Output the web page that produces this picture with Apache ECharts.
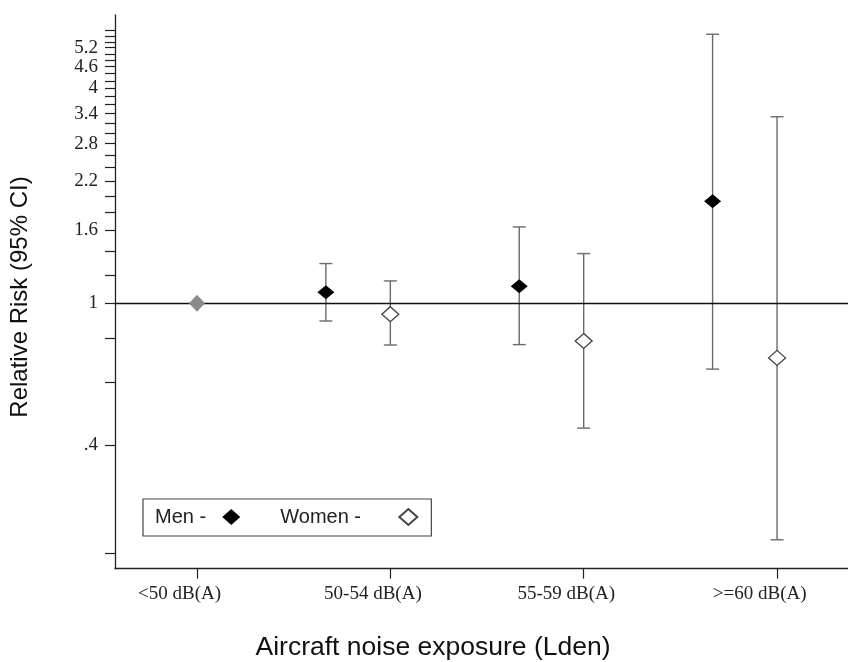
<!DOCTYPE html>
<html>
<head>
<meta charset="utf-8">
<script src="https://cdn.jsdelivr.net/npm/echarts@6/dist/echarts.min.js"></script>
<style>html,body{margin:0;padding:0;background:#fff}#c{width:848px;height:662px}</style>
</head>
<body>
<div id="c"></div>
<script>
// Categories (exposure groups)
var categories = ['<50 dB(A)', '50-54 dB(A)', '55-59 dB(A)', '>=60 dB(A)'];
// Reference group
var refRR = 1;
// Men: relative risk and 95% CI for groups 2..4
var menRR = [1.073, 1.116, 1.932];
var menLo = [0.892, 0.766, 0.654];
var menHi = [1.292, 1.636, 5.67];
// Women: relative risk and 95% CI for groups 2..4
var womenRR = [0.932, 0.784, 0.703];
var womenLo = [0.764, 0.447, 0.2175];
var womenHi = [1.155, 1.378, 3.33];
// Y axis ticks and labels
var yTickValues = [0.2, 0.4, 0.6, 0.8, 1, 1.2, 1.4, 1.6, 1.8, 2, 2.2, 2.4, 2.6, 2.8, 3, 3.2, 3.4, 3.6, 3.8, 4, 4.2, 4.4, 4.6, 4.8, 5, 5.2, 5.4, 5.6, 5.8];
var yLabelValues = [0.4, 1, 1.6, 2.2, 2.8, 3.4, 4, 4.6, 5.2];

var MEN_SHIFT = -1 / 3;
var LABEL_SHIFT = -0.09;

function catPos(i) { return i + 1; }

var menPts = [], womenPts = [], menBars = [], womenBars = [];
for (var i = 0; i < menRR.length; i++) {
  var xm = catPos(i + 1) + MEN_SHIFT, xw = catPos(i + 1);
  menPts.push([xm, menRR[i]]);
  womenPts.push([xw, womenRR[i]]);
  menBars.push([xm, menLo[i], menHi[i]]);
  womenBars.push([xw, womenLo[i], womenHi[i]]);
}
var refPts = [[catPos(0), refRR]];

var xTickPos = categories.map(function (c, i) { return catPos(i); });
var xLabelPos = categories.map(function (c, i) { return catPos(i) + LABEL_SHIFT; });

function errRender(params, api) {
  var x = api.value(0), lo = api.value(1), hi = api.value(2);
  var pLo = api.coord([x, lo]), pHi = api.coord([x, hi]);
  var cap = 6.5;
  var st = { stroke: '#6a6a6a', lineWidth: 1.4 };
  return {
    type: 'group',
    children: [
      { type: 'line', shape: { x1: pLo[0], y1: pLo[1], x2: pHi[0], y2: pHi[1] }, style: st },
      { type: 'line', shape: { x1: pLo[0] - cap, y1: pLo[1], x2: pLo[0] + cap, y2: pLo[1] }, style: st },
      { type: 'line', shape: { x1: pHi[0] - cap, y1: pHi[1], x2: pHi[0] + cap, y2: pHi[1] }, style: st }
    ]
  };
}

var chart = echarts.init(document.getElementById('c'), null, { renderer: 'canvas' });
chart.setOption({
  animation: false,
  backgroundColor: '#fff',
  grid: { left: 115, right: 0, top: 15, bottom: 93.3, outerBoundsMode: 'none' },
  legend: {
    data: ['Men', 'Women'],
    left: 143, top: 499,
    align: 'right',
    orient: 'horizontal',
    itemGap: 40,
    itemWidth: 18, itemHeight: 16,
    padding: [8, 13, 9, 12],
    borderColor: '#444', borderWidth: 1.2,
    formatter: function (n) { return n === 'Men' ? n + ' -  ' : n + ' -      '; },
    textStyle: { fontFamily: 'Liberation Sans', fontSize: 20, color: '#222' },
    selectedMode: false
  },
  xAxis: {
    type: 'value', min: 0.576, max: 4.367,
    splitLine: { show: false },
    axisLine: { show: true, lineStyle: { color: '#222', width: 1.3 } },
    axisTick: { show: true, length: 10, customValues: xTickPos, lineStyle: { color: '#222', width: 1.2 } },
    axisLabel: {
      customValues: xLabelPos,
      margin: 16,
      fontFamily: 'Liberation Serif', fontSize: 19, color: '#222',
      formatter: function (v) { return categories[Math.round(v) - 1]; }
    }
  },
  yAxis: {
    type: 'log', logBase: 10, min: 0.1805, max: 6.42,
    splitLine: { show: false },
    minorTick: { show: false },
    axisLine: { show: true, lineStyle: { color: '#222', width: 1.3 } },
    axisTick: { show: true, length: 10, customValues: yTickValues, lineStyle: { color: '#222', width: 1.2 } },
    axisLabel: {
      customValues: yLabelValues,
      margin: 17,
      fontFamily: 'Liberation Serif', fontSize: 19, color: '#222',
      formatter: function (v) { return v < 1 ? String(v).replace(/^0/, '') : String(v); }
    }
  },
  graphic: [
    { type: 'text', x: 20, y: 297, rotation: Math.PI / 2,
      style: { text: 'Relative Risk (95% CI)', font: '24px "Liberation Sans"', fill: '#111', textAlign: 'center', textVerticalAlign: 'middle' } },
    { type: 'text', x: 433, y: 648,
      style: { text: 'Aircraft noise exposure (Lden)', font: '26.5px "Liberation Sans"', fill: '#111', textAlign: 'center', textVerticalAlign: 'middle' } }
  ],
  series: [
    { type: 'custom', name: 'menCI', renderItem: errRender, data: menBars, z: 2, silent: true },
    { type: 'custom', name: 'womenCI', renderItem: errRender, data: womenBars, z: 2, silent: true },
    {
      type: 'scatter', name: 'Reference', data: refPts, symbol: 'diamond', symbolSize: [16, 17], z: 5,
      itemStyle: { color: '#8a8a8a', opacity: 1 },
      markLine: { silent: true, symbol: 'none', label: { show: false },
        lineStyle: { color: '#111', width: 1.3, type: 'solid' }, data: [{ yAxis: refRR }] }
    },
    { type: 'scatter', name: 'Men', data: menPts, symbol: 'diamond', symbolSize: [17, 14], z: 5,
      itemStyle: { color: '#000', opacity: 1 } },
    { type: 'scatter', name: 'Women', data: womenPts, symbol: 'diamond', symbolSize: [17, 15], z: 5,
      itemStyle: { color: '#fff', borderColor: '#444', borderWidth: 1.3, opacity: 1 } }
  ]
});
</script>
</body>
</html>
